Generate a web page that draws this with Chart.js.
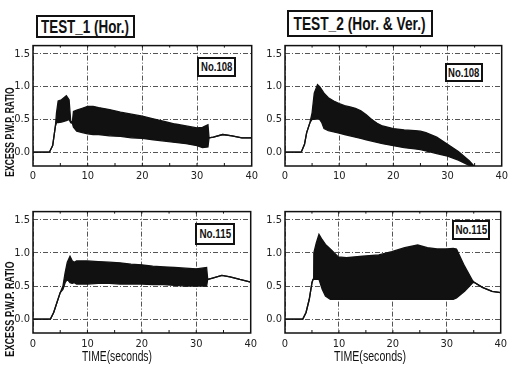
<!DOCTYPE html>
<html>
<head>
<meta charset="utf-8">
<script src="https://cdn.jsdelivr.net/npm/chart.js@4.4.1/dist/chart.umd.min.js"></script>
<style>
  html, body { margin: 0; padding: 0; background: #fff; overflow: hidden; }
  #fig { position: relative; width: 508px; height: 365px; overflow: hidden; background: #fff;
         font-family: 'Liberation Sans Narrow', 'Liberation Sans', Arial, sans-serif; color: #111; }
  #fig canvas { position: absolute; }
  .box { position: absolute; box-sizing: border-box; border: 2px solid #111;
         display: flex; align-items: center; justify-content: center; background: #fff; }
  .box span, .lbl { display: inline-block; white-space: nowrap; line-height: 1; }
  .lbl { position: absolute; }
</style>
</head>
<body>
<div id="fig">
  <canvas id="p1" width="262" height="150" style="left:0px;top:36px"></canvas>
  <canvas id="p2" width="261" height="150" style="left:251px;top:36px"></canvas>
  <canvas id="p3" width="262" height="147" style="left:0px;top:202px"></canvas>
  <canvas id="p4" width="261" height="147" style="left:251px;top:202px"></canvas>

  <div class="box" style="left:36px;top:15px;width:99px;height:23px"><span data-w="88" style="font-size:18px;font-weight:bold">TEST_1 (Hor.)</span></div>
  <div class="box" style="left:287px;top:10px;width:146px;height:27px"><span data-w="132" style="font-size:18px;font-weight:bold">TEST_2 (Hor. &amp; Ver.)</span></div>

  <div class="box" style="left:197px;top:57px;width:39px;height:20px"><span data-w="31" style="font-size:12px;font-weight:bold">No.108</span></div>
  <div class="box" style="left:445px;top:63px;width:38px;height:19px"><span data-w="31" style="font-size:12px;font-weight:bold">No.108</span></div>
  <div class="box" style="left:195px;top:223px;width:40px;height:22px"><span data-w="32" style="font-size:12px;font-weight:bold">No.115</span></div>
  <div class="box" style="left:452px;top:220px;width:38px;height:20px"><span data-w="32" style="font-size:12px;font-weight:bold">No.115</span></div>

  <span class="lbl" data-w="89" data-rot="1" style="left:10px;top:132px;font-size:12px;font-weight:bold">EXCESS P.W.P. RATIO</span>
  <span class="lbl" data-w="95" data-rot="1" style="left:10px;top:309px;font-size:12px;font-weight:bold">EXCESS P.W.P. RATIO</span>
  <span class="lbl" data-w="70" style="left:117px;top:356px;font-size:14px">TIME(seconds)</span>
  <span class="lbl" data-w="72" style="left:370px;top:356px;font-size:14px">TIME(seconds)</span>
</div>

<script>
// axis ticks
const xTicks = [0, 10, 20, 30, 40];
const yTicks = [0.0, 0.5, 1.0, 1.5];
const xMinorTicks = [5, 10, 15, 20, 25, 30, 35];

// TEST_1 (Hor.), No.108 : upper / lower envelope of the oscillation
const t1n108Time  = [0, 3.0, 3.6, 4.1, 4.3, 4.6, 5.2, 6.1, 6.6, 6.9, 7.2, 7.4, 8, 9, 10, 11, 12, 14, 16, 18, 20, 22, 24, 26, 28, 30, 31, 32.0, 32.2, 33, 34.7, 36.4, 38.2, 40];
const t1n108Upper = [0, 0, 0.1, 0.4, 0.6, 0.78, 0.8, 0.86, 0.8, 0.47, 0.46, 0.62, 0.64, 0.67, 0.7, 0.7, 0.68, 0.65, 0.61, 0.58, 0.55, 0.51, 0.47, 0.43, 0.4, 0.37, 0.38, 0.42, 0.22, 0.23, 0.27, 0.25, 0.22, 0.22];
const t1n108Lower = [0, 0, 0.1, 0.4, 0.45, 0.45, 0.46, 0.48, 0.5, 0.45, 0.44, 0.38, 0.32, 0.3, 0.28, 0.27, 0.27, 0.25, 0.24, 0.22, 0.21, 0.19, 0.17, 0.15, 0.13, 0.1, 0.07, 0.08, 0.22, 0.23, 0.27, 0.25, 0.22, 0.22];

// TEST_2 (Hor. & Ver.), No.108
const t2n108Time  = [0, 3.0, 3.6, 4.0, 4.6, 5.0, 5.4, 6.0, 6.4, 6.8, 7.2, 8, 9, 10, 11, 12, 13, 14, 15, 16, 17, 18, 20, 22, 24, 25, 26, 28, 30, 32, 34, 35, 36];
const t2n108Upper = [0, 0, 0.12, 0.3, 0.45, 0.6, 0.9, 1.03, 1.0, 0.95, 0.9, 0.83, 0.78, 0.74, 0.71, 0.69, 0.67, 0.63, 0.57, 0.5, 0.44, 0.4, 0.36, 0.34, 0.33, 0.32, 0.3, 0.23, 0.12, 0.01, -0.13, -0.22, -0.3];
const t2n108Lower = [0, 0, 0.12, 0.3, 0.45, 0.5, 0.5, 0.52, 0.5, 0.45, 0.36, 0.33, 0.31, 0.29, 0.27, 0.25, 0.23, 0.21, 0.19, 0.17, 0.15, 0.13, 0.1, 0.07, 0.05, 0.04, 0.02, -0.02, -0.06, -0.12, -0.2, -0.25, -0.3];

// TEST_1 (Hor.), No.115
const t1n115Time  = [0, 3.2, 3.8, 4.4, 5.0, 5.5, 5.9, 6.3, 6.8, 7.2, 7.6, 8, 9, 10, 12, 14, 16, 18, 20, 22, 24, 26, 28, 30, 31, 31.9, 32.1, 33, 34.7, 36.2, 38, 40];
const t1n115Upper = [0, 0, 0.1, 0.25, 0.4, 0.5, 0.7, 0.86, 0.95, 0.88, 0.86, 0.88, 0.88, 0.88, 0.87, 0.86, 0.85, 0.83, 0.82, 0.8, 0.79, 0.78, 0.77, 0.76, 0.77, 0.78, 0.6, 0.62, 0.66, 0.64, 0.6, 0.56];
const t1n115Lower = [0, 0, 0.1, 0.25, 0.4, 0.45, 0.55, 0.6, 0.55, 0.54, 0.55, 0.53, 0.53, 0.53, 0.54, 0.54, 0.53, 0.53, 0.53, 0.52, 0.52, 0.51, 0.5, 0.5, 0.5, 0.5, 0.6, 0.62, 0.66, 0.64, 0.6, 0.56];

// TEST_2 (Hor. & Ver.), No.115
const t2n115Time  = [0, 3.3, 3.9, 4.5, 5.0, 5.2, 5.35, 5.8, 6.3, 6.9, 7.5, 8.4, 9.9, 11.4, 14.4, 17.4, 19.8, 22.2, 24.6, 26.4, 28.2, 30, 31.2, 31.8, 33.3, 34.8, 35.2, 36.6, 38.4, 40];
const t2n115Upper = [0, 0, 0.1, 0.3, 0.55, 0.6, 1.0, 1.15, 1.28, 1.2, 1.13, 1.06, 0.94, 0.93, 0.95, 0.97, 1.02, 1.08, 1.12, 1.08, 1.06, 1.06, 1.07, 1.06, 0.8, 0.58, 0.55, 0.48, 0.42, 0.4];
const t2n115Lower = [0, 0, 0.1, 0.3, 0.55, 0.6, 0.6, 0.6, 0.6, 0.45, 0.35, 0.3, 0.3, 0.3, 0.3, 0.3, 0.3, 0.3, 0.3, 0.3, 0.3, 0.3, 0.3, 0.32, 0.42, 0.55, 0.55, 0.48, 0.42, 0.4];

const tickFont = { family: "'Liberation Sans Narrow', 'DejaVu Sans Condensed', sans-serif", size: 11 };

// solid plot frame plus small inward ticks along the bottom and top edges
const frame = {
  id: 'frame',
  afterDatasetsDraw(chart) {
    const { ctx, chartArea: a, scales } = chart;
    ctx.save();
    ctx.strokeStyle = '#111';
    ctx.lineWidth = 1.5;
    ctx.strokeRect(a.left, a.top, a.right - a.left, a.bottom - a.top);
    ctx.lineWidth = 1;
    ctx.beginPath();
    xMinorTicks.forEach(v => {
      const px = scales.x.getPixelForValue(v);
      ctx.moveTo(px, a.bottom);
      ctx.lineTo(px, a.bottom - 3);
      ctx.moveTo(px, a.top);
      ctx.lineTo(px, a.top + 2);
    });
    ctx.stroke();
    ctx.restore();
  }
};

function pts(t, y) {
  return t.map((x, i) => ({ x: x, y: y[i] }));
}

function panel(id, time, upper, lower, yWidth, xHeight, xPad) {
  return new Chart(document.getElementById(id), {
    type: 'line',
    data: {
      datasets: [
        { data: pts(time, upper), borderColor: '#111', borderWidth: 1.3, pointRadius: 0, fill: false },
        { data: pts(time, lower), borderColor: '#111', borderWidth: 1.3, pointRadius: 0,
          fill: '-1', backgroundColor: '#111' }
      ]
    },
    options: {
      responsive: false,
      animation: false,
      layout: { padding: { top: 7, right: 7, left: 0, bottom: 0 } },
      plugins: { legend: { display: false }, tooltip: { enabled: false } },
      scales: {
        x: {
          type: 'linear', min: 0, max: 40,
          afterBuildTicks: s => { s.ticks = xTicks.map(v => ({ value: v })); },
          afterFit: s => { s.height = xHeight; },
          grid: { color: '#555', lineWidth: 1, drawTicks: false },
          border: { display: false, dash: [5, 2, 1, 2] },
          ticks: { font: tickFont, color: '#222', padding: xPad, maxRotation: 0 }
        },
        y: {
          min: -0.21, max: 1.625,
          afterBuildTicks: s => { s.ticks = yTicks.map(v => ({ value: v })); },
          afterFit: s => { s.width = yWidth; },
          grid: { color: '#555', lineWidth: 1, drawTicks: false },
          border: { display: false, dash: [5, 2, 1, 2] },
          ticks: { font: tickFont, color: '#222', padding: 3, callback: v => Number(v).toFixed(1) }
        }
      }
    },
    plugins: [frame]
  });
}

panel('p1', t1n108Time, t1n108Upper, t1n108Lower, 33, 20, 4);
panel('p2', t2n108Time, t2n108Upper, t2n108Lower, 34, 20, 4);
panel('p3', t1n115Time, t1n115Upper, t1n115Lower, 33, 16, 5);
panel('p4', t2n115Time, t2n115Upper, t2n115Lower, 34, 16, 5);

// squeeze the narrow lettering to its width
document.querySelectorAll('[data-w]').forEach(el => {
  const k = Number(el.dataset.w) / el.offsetWidth;
  if (el.classList.contains('lbl')) {
    const rot = el.dataset.rot ? ' rotate(-90deg)' : '';
    el.style.transform = 'translate(-50%,-50%)' + rot + ' scaleX(' + k + ')';
  } else {
    el.style.transform = 'scaleX(' + k + ')';
  }
});
</script>
</body>
</html>
